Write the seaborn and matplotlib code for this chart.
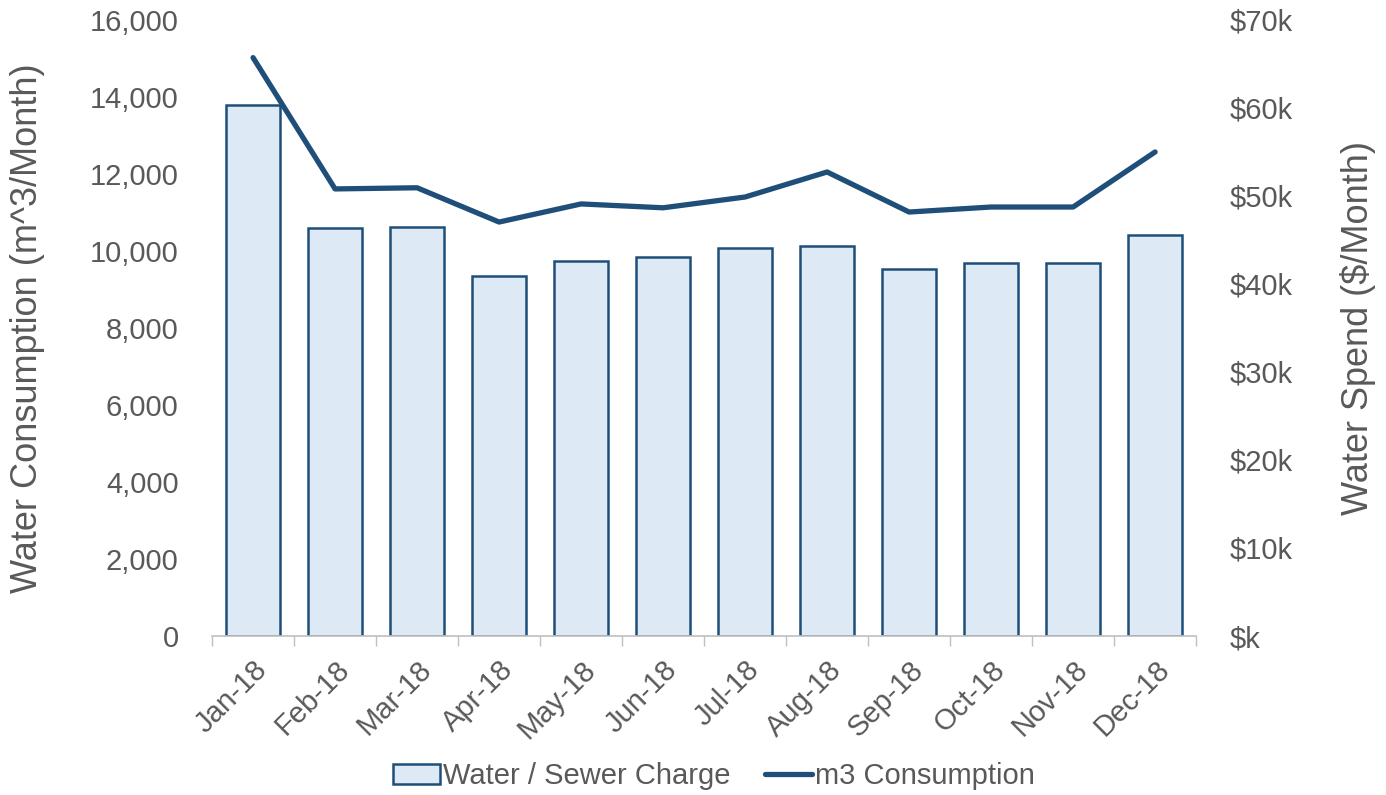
import pandas as pd
import seaborn as sns
import matplotlib.pyplot as plt
from matplotlib.ticker import FuncFormatter, MultipleLocator
from matplotlib.patches import Patch
from matplotlib.lines import Line2D

# data
months = ['Jan-18', 'Feb-18', 'Mar-18', 'Apr-18', 'May-18', 'Jun-18',
          'Jul-18', 'Aug-18', 'Sep-18', 'Oct-18', 'Nov-18', 'Dec-18']
consumption = [15020, 11610, 11640, 10750, 11220, 11120,
               11400, 12050, 11010, 11140, 11140, 12570]
charge = [60300, 46400, 46500, 40900, 42600, 43100,
          44100, 44300, 41700, 42400, 42400, 45600]

df = pd.DataFrame({'month': months, 'm3': consumption, 'charge': charge})

sns.set_theme(style='white')
plt.rcParams['font.family'] = ['Liberation Sans', 'DejaVu Sans']
grey = '#595959'
navy = '#1F4E79'
fill = '#DDE9F5'
fs = 21

fig, ax = plt.subplots(figsize=(13.86, 7.95), dpi=100)
fig.subplots_adjust(left=0.153, right=0.863, top=0.975, bottom=0.2)
ax2 = ax.twinx()

# bars on the right ($) axis
sns.barplot(data=df, x='month', y='charge', ax=ax2, color=fill,
            edgecolor=navy, linewidth=1.8, width=0.65, saturation=1)
# line on the left (m3) axis
sns.lineplot(data=df, x='month', y='m3', ax=ax, color=navy, linewidth=3.8,
             solid_capstyle='round')

ax.set_zorder(ax2.get_zorder() + 1)
ax.patch.set_visible(False)

ax.set_ylim(0, 16000)
ax.yaxis.set_major_locator(MultipleLocator(2000))
ax.yaxis.set_major_formatter(FuncFormatter(lambda v, p: f'{v:,.0f}'))
ax2.set_ylim(0, 70000)
ax2.yaxis.set_major_locator(MultipleLocator(10000))
ax2.yaxis.set_major_formatter(
    FuncFormatter(lambda v, p: r'\$k' if v == 0 else rf'\${v/1000:.0f}k'))

ax.set_xlim(-0.5, len(months) - 0.5)
ax.set_xticks(range(len(months)))
ax.set_xticklabels(months, rotation=45, ha='right', rotation_mode='anchor')
ax.set_xticks([i - 0.5 for i in range(len(months) + 1)], minor=True)
ax.tick_params(axis='x', which='major', length=0, pad=14)
ax.tick_params(axis='x', which='minor', length=7, color='#BFBFBF',
               width=1, bottom=True)

for a in (ax, ax2):
    for s in a.spines.values():
        s.set_visible(False)
    a.tick_params(axis='y', length=0, labelsize=fs, labelcolor=grey, pad=24)
ax.tick_params(axis='x', labelsize=fs, labelcolor=grey)
ax.spines['bottom'].set_visible(True)
ax.spines['bottom'].set_color('#BFBFBF')
ax.spines['bottom'].set_linewidth(1.2)
ax2.set_xlabel('')
ax.set_xlabel('')

ax.set_ylabel('Water Consumption (m^3/Month)', fontsize=26, color=grey)
ax.yaxis.set_label_coords(-0.17, 0.5)
ax2.set_ylabel(r'Water Spend (\$/Month)', fontsize=26, color=grey)
ax2.yaxis.set_label_coords(1.146, 0.5)

handles = [Patch(facecolor=fill, edgecolor=navy, linewidth=1.8),
           Line2D([0], [0], color=navy, linewidth=3.8)]
fig.legend(handles, ['Water / Sewer Charge', 'm3 Consumption'],
           loc='center', bbox_to_anchor=(0.515, 0.024), ncol=2, frameon=False,
           fontsize=fs, labelcolor=grey, handlelength=1.6, handletextpad=0.1,
           columnspacing=1.2)

fig.savefig('out.png', dpi=100)
